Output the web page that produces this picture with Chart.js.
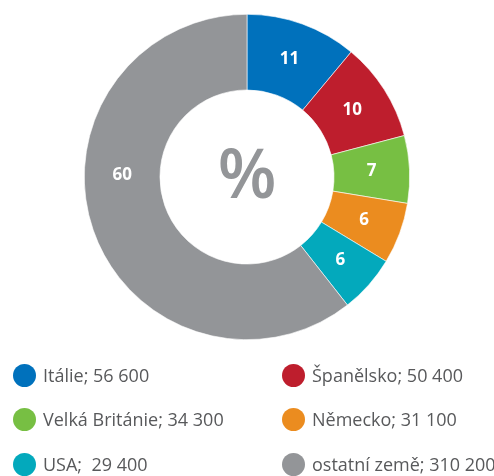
<!DOCTYPE html>
<html lang="cs">
<head>
<meta charset="utf-8">
<script src="https://cdn.jsdelivr.net/npm/chart.js@4/dist/chart.umd.min.js"></script>
<style>
    html, body { margin: 0; padding: 0; background: #fff; }
    body { width: 494px; height: 476px; position: relative; overflow: hidden; font-family: "Open Sans", sans-serif; }
    #chart-box { position: absolute; left: 0; top: 0; width: 494px; height: 356px; }
    #legend { position: absolute; left: 0; top: 0; width: 494px; height: 476px; pointer-events: none; }
    .leg-item { position: absolute; display: flex; align-items: center; font-size: 18px; color: #58595b; white-space: pre; }
    .leg-dot { width: 23px; height: 23px; border-radius: 50%; margin-right: 7px; flex: none; }
</style>
</head>
<body>
<div id="chart-box"><canvas id="donut"></canvas></div>
<div id="legend"></div>
<script>
// --- DATA ---
const countries = ['Itálie', 'Španělsko', 'Velká Británie', 'Německo', 'USA', 'ostatní země'];
const visitors  = [56600, 50400, 34300, 31100, 29400, 310200];
const shares    = [11, 10, 7, 6, 6, 60];   // percent labels printed on the ring
const legendText = ['Itálie; 56 600', 'Španělsko; 50 400', 'Velká Británie; 34 300', 'Německo; 31 100', 'USA;  29 400', 'ostatní země; 310 200'];
const colors    = ['#0071bc', '#be1e2d', '#77bf43', '#eb8c1f', '#03a9bc', '#939598'];

// --- SLICE LABELS + CENTRE "%" ---
const sliceLabels = {
    id: 'sliceLabels',
    afterDatasetsDraw(chart) {
        const { ctx } = chart;
        const meta = chart.getDatasetMeta(0);
        ctx.save();
        ctx.textAlign = 'center';
        ctx.textBaseline = 'middle';
        ctx.fillStyle = '#ffffff';
        ctx.font = 'bold 17px "Open Sans", sans-serif';
        meta.data.forEach((arc, i) => {
            let p = arc.tooltipPosition();
            // the big slice gets its label on the left side of the ring
            if (shares[i] > 50) {
                const r = (arc.innerRadius + arc.outerRadius) / 2;
                p = { x: arc.x - r, y: arc.y - 2 };
            }
            ctx.fillText(String(shares[i]), p.x, p.y);
        });
        const c = meta.data[0];
        ctx.fillStyle = '#939598';
        ctx.font = '600 68px "Open Sans", sans-serif';
        ctx.fillText('%', c.x, c.y + 2);
        ctx.restore();
    }
};

new Chart(document.getElementById('donut'), {
    type: 'doughnut',
    data: {
        labels: countries,
        datasets: [{
            data: visitors,
            backgroundColor: colors,
            borderColor: '#ffffff',
            borderWidth: 0.6
        }]
    },
    options: {
        responsive: true,
        maintainAspectRatio: false,
        animation: false,
        cutout: '53.5%',
        layout: { padding: { top: 14, bottom: 16 } },
        plugins: { legend: { display: false }, tooltip: { enabled: false } }
    },
    plugins: [sliceLabels]
});

// --- HTML LEGEND (two columns) ---
const legend = document.getElementById('legend');
const colX = [13, 282];
const rowY = [375, 419, 464];
legendText.forEach((txt, i) => {
    const item = document.createElement('div');
    item.className = 'leg-item';
    item.style.left = colX[i % 2] + 'px';
    item.style.top = (rowY[Math.floor(i / 2)] - 12) + 'px';
    item.style.height = '24px';
    item.innerHTML = `<span class="leg-dot" style="background:${colors[i]}"></span><span>${txt}</span>`;
    legend.appendChild(item);
});
</script>
</body>
</html>
